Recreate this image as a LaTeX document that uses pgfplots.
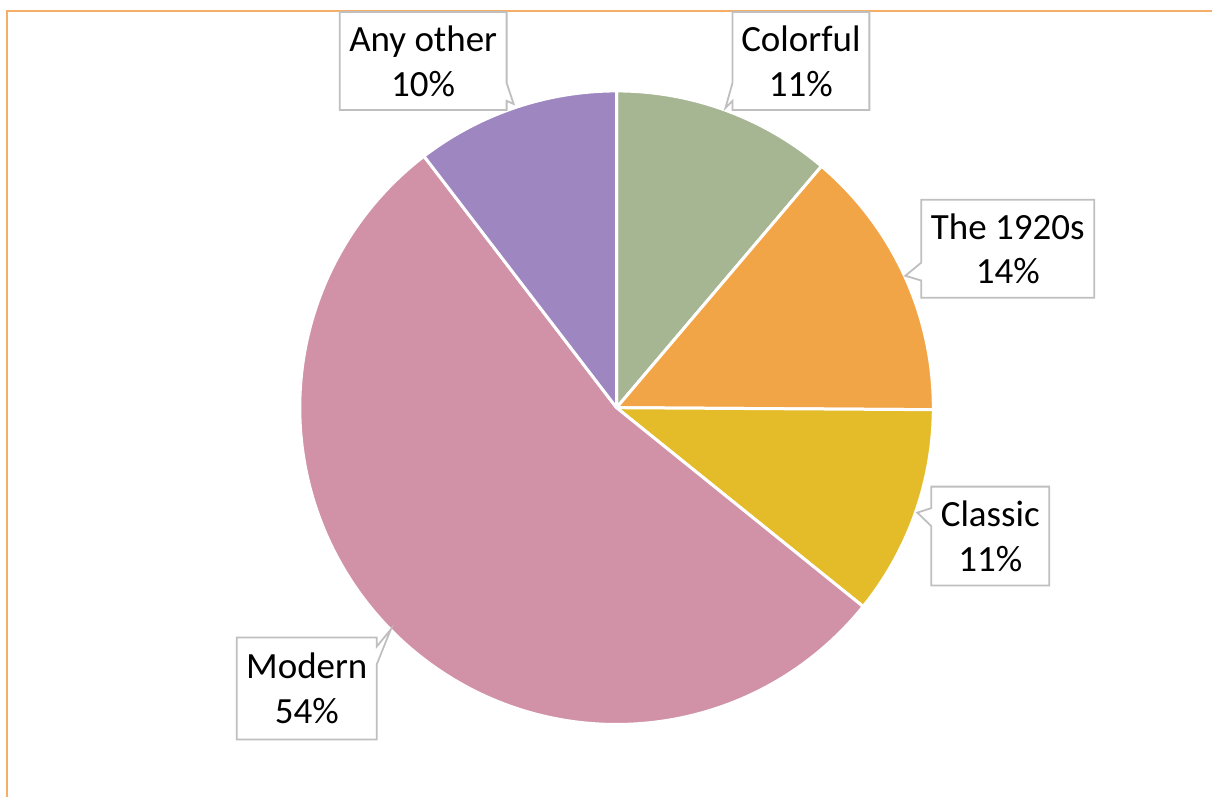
\documentclass[border=0pt]{standalone}
\usepackage{fontspec}
\setmainfont{Carlito}
\usepackage{pgfplots}
\usepackage{pgfplotstable}
\pgfplotsset{compat=1.18}
\usetikzlibrary{shapes.callouts}

\definecolor{cColorful}{HTML}{A6B592}
\definecolor{cTwenties}{HTML}{F2A547}
\definecolor{cClassic}{HTML}{E4BC2A}
\definecolor{cModern}{HTML}{D192A7}
\definecolor{cOther}{HTML}{9E86C0}
\definecolor{cFrame}{HTML}{F4AE68}
\definecolor{cBox}{HTML}{BFBFBF}

\tikzset{lbl/.style={rectangle callout, draw=cBox, fill=white, line width=0.9pt,
    align=center, inner sep=0pt, callout pointer width=9pt,
    font=\fontsize{18.5}{22.5}\selectfont}}

% share in percent, clockwise from 12 o'clock
\pgfplotstableread{
label value color
Colorful 11.2 cColorful
Twenties 13.9 cTwenties
Classic 10.7 cClassic
Modern 53.8 cModern
Other 10.4 cOther
}\piedata

\begin{document}
\begin{tikzpicture}
\begin{axis}[
  x=0.5pt, y=0.5pt,
  xmin=0, xmax=1213, ymin=0, ymax=798,
  hide axis, clip=false,
]
  \path (axis cs:0,0) rectangle (axis cs:1213,798);
  \draw[cFrame, line width=0.9pt] (axis cs:7,0) -- (axis cs:7,787) -- (axis cs:1213,787);

  \def\curang{90}
  \pgfplotsforeachungrouped \i in {0,...,4}{
    \pgfplotstablegetelem{\i}{value}\of\piedata \let\val\pgfplotsretval
    \pgfplotstablegetelem{\i}{color}\of\piedata \let\col\pgfplotsretval
    \pgfmathsetmacro\endang{\curang-3.6*\val}
    \edef\temp{\noexpand\fill[\col, draw=white, line width=1.5pt, line join=round]
      (axis cs:617,390) -- ++(\curang:158.5pt)
      arc[start angle=\curang, end angle=\endang, radius=158.5pt] -- cycle;}
    \temp
    \let\curang\endang
  }

  \node[lbl, minimum width=83.5pt, minimum height=49pt,
    callout absolute pointer={(axis cs:514,694)}] at (axis cs:423.5,737) {Any other\\10\%};
  \node[lbl, minimum width=68.5pt, minimum height=49pt,
    callout absolute pointer={(axis cs:726,690)}] at (axis cs:801.5,737) {Colorful\\11\%};
  \node[lbl, minimum width=86.5pt, minimum height=49pt,
    callout absolute pointer={(axis cs:906,522)}] at (axis cs:1008.5,549) {The 1920s\\14\%};
  \node[lbl, minimum width=59pt, minimum height=49.5pt,
    callout absolute pointer={(axis cs:918,285)}] at (axis cs:991,261.5) {Classic\\11\%};
  \node[lbl, minimum width=70pt, minimum height=51pt,
    callout absolute pointer={(axis cs:391,168)}] at (axis cs:307,109) {Modern\\54\%};
\end{axis}
\end{tikzpicture}
\end{document}
